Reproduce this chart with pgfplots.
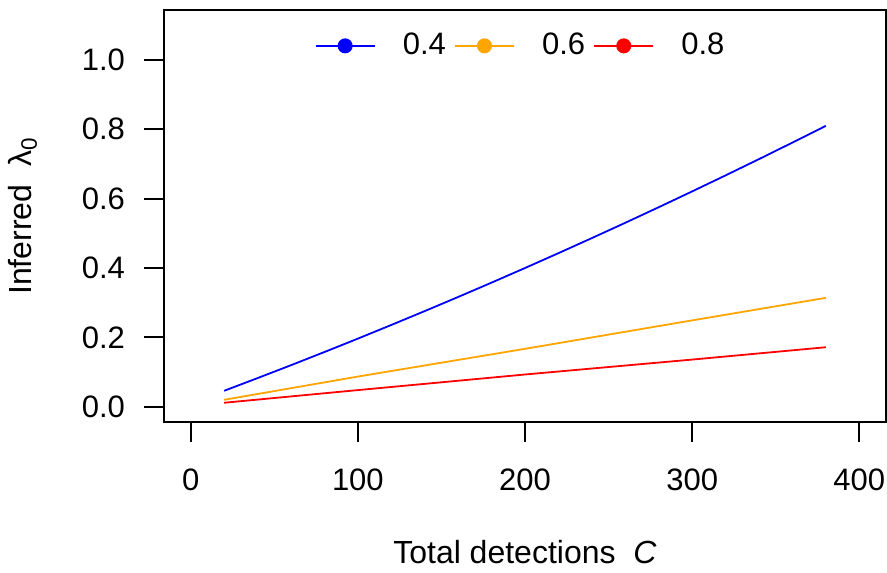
\documentclass[border=0pt]{standalone}
\usepackage{fontspec}
\setmainfont{Liberation Sans}
\usepackage{pgfplots}
\pgfplotsset{compat=1.18}
\definecolor{rblue}{RGB}{0,0,255}
\definecolor{rorange}{RGB}{255,165,0}
\definecolor{rred}{RGB}{255,0,0}

\begin{document}
\fontsize{16pt}{18pt}\selectfont
\begin{tikzpicture}
  \begin{axis}[
    name=main,
    scale only axis,
    width=361pt, height=206pt,
    xmin=-16, xmax=416,
    ymin=-0.044, ymax=1.144,
    axis line style={line width=0.9pt},
    tick style={line width=0.9pt, black},
    tick align=outside,
    major tick length=10pt,
    xtick pos=bottom, ytick pos=left,
    xtick={0,100,200,300,400},
    ytick={0,0.2,0.4,0.6,0.8,1.0},
    /pgf/number format/assume math mode=true,
    yticklabel style={/pgf/number format/fixed, /pgf/number format/fixed zerofill,
      /pgf/number format/precision=1, xshift=-4pt},
    xticklabel style={yshift=-7.75pt},
    tick label style={font=\fontsize{15.5pt}{18pt}\selectfont},
    xlabel={Total detections\ \ \textit{C}},
    ylabel={Inferred\ \ λ\textsubscript{0}},
    label style={font=\fontsize{16pt}{18pt}\selectfont},
    xlabel style={at={(axis description cs:0.5,-0.3155)}, anchor=center},
    ylabel style={at={(axis description cs:-0.1955,0.5)}, anchor=center},
    legend columns=3,
    legend style={draw=none, fill=none, inner sep=0pt,
      at={(0.208,0.913)}, anchor=west,
      font=\fontsize{15.5pt}{18pt}\selectfont,
      nodes={inner sep=0pt},
      /tikz/every odd column/.append style={column sep=13.5pt},
      /tikz/every even column/.append style={column sep=4pt}},
    legend image code/.code={
      \draw[line width=1.1pt] (0pt,0pt) -- (29.5pt,0pt);
      \fill (14.75pt,0pt) circle (3.3pt);
    },
  ]
    \addplot[rblue, line width=0.9pt] coordinates {
      (20,0.046) (40,0.0826) (60,0.1198) (80,0.1578) (100,0.1964)
      (120,0.2358) (140,0.2758) (160,0.3165) (180,0.3579) (200,0.4000)
      (220,0.4428) (240,0.4863) (260,0.5304) (280,0.5753) (300,0.6209)
      (320,0.6671) (340,0.7140) (360,0.7617) (380,0.8100)
    };
    \addlegendentry{0.4}
    \addplot[rorange, line width=0.9pt] coordinates {
      (20,0.020) (100,0.087) (200,0.167) (300,0.249) (380,0.314)
    };
    \addlegendentry{0.6}
    \addplot[rred, line width=0.9pt] coordinates {
      (20,0.0115) (100,0.048) (200,0.093) (300,0.136) (380,0.1716)
    };
    \addlegendentry{0.8}
  \end{axis}
  \pgfresetboundingbox
  \path ([shift={(-82pt,-75pt)}]main.south west) rectangle ([shift={(0.5pt,5pt)}]main.north east);
\end{tikzpicture}
\end{document}
